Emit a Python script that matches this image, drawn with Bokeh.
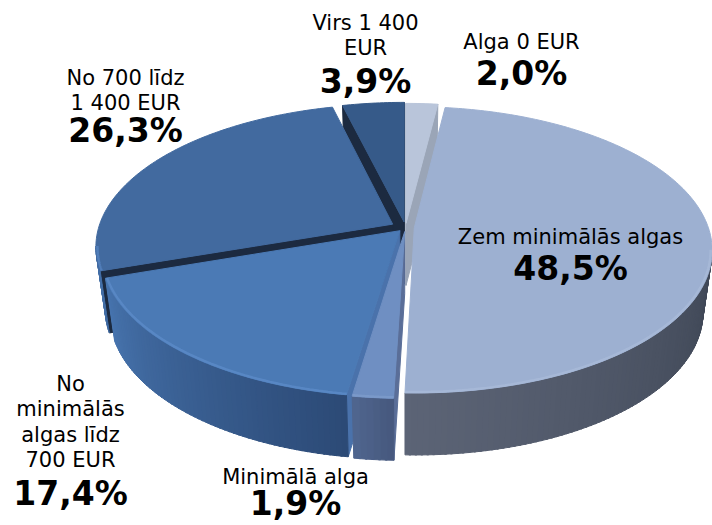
import numpy as np
from bokeh.plotting import figure
from bokeh.models import Range1d, ColumnDataSource
from bokeh.embed import file_html
from bokeh.resources import INLINE
from bokeh.core.properties import value

# ---------------- data ----------------
categories = ["Alga 0 EUR", "Zem minimālās algas", "Minimālā alga",
              "No minimālās algas līdz 700 EUR", "No 700 līdz 1 400 EUR", "Virs 1 400 EUR"]
shares = [2.0, 48.5, 1.9, 17.4, 26.3, 3.9]
label_lines = ["Alga 0 EUR", "Zem minimālās algas", "Minimālā alga",
               "No\nminimālās\nalgas līdz\n700 EUR", "No 700 līdz\n1 400 EUR", "Virs 1 400\nEUR"]

# ---------------- style ----------------
top_colors = ["#b9c5da", "#9db0d1", "#6f8fc2", "#4b7ab5", "#426a9f", "#365a89"]
radial_colors = ["#9aa5b7", "#3a4250", "#5a6e98", "#4a72ab", "#1c2a40", "#1c2a40"]
side_light = ["#8a96a8", "#5c6476", "#50668f", "#4774ae", "#4470a8", "#2e4a70"]
side_dark = ["#7a8698", "#3e4655", "#46587d", "#2c4a76", "#3d679f", "#2a4468"]
rim_colors = ["#c8d2e4", "#a9bad8", "#7d9bcb", "#5b8bc8", "#5583c0", "#4268a0"]
explode = [0.03, 0.03, 0.03, 0.03, 0.05, 0.04]
label_x = [521, 570, 295, 70, 125, 365]
label_y = [41, 236, 476, 383, 77, 22]
pct_y = [73, 268, 503, 493, 130, 81]
line_step = 25.5

# perspective camera (layout)
cx, cy0 = 405.0, 227.0
sx, sz, kp = 294.0, 139.6, 0.154
depth, gb = 62.0, 0.97

vals = np.array(shares, dtype=float)
frac = vals / vals.sum()
edges = np.concatenate([[0.0], np.cumsum(frac)]) * 2 * np.pi


def hex2rgb(h):
    h = h.lstrip("#")
    return np.array([int(h[i:i + 2], 16) for i in (0, 2, 4)], dtype=float)


def rgb2hex(c):
    c = np.clip(np.round(c), 0, 255).astype(int)
    return "#%02x%02x%02x" % tuple(c)


def proj(theta, r, ex, ez, bottom=False):
    X = r * np.sin(theta) + ex
    Z = r * np.cos(theta) + ez
    w = 1 + kp * Z
    x = cx + sx * X / w
    y = cy0 - sz * Z / w
    if bottom:
        x = cx + (x - cx) * gb
        y = y + depth
    return x, y


def area(qx, qy):
    s = 0.0
    n = len(qx)
    for j in range(n):
        s += qx[j] * qy[(j + 1) % n] - qx[(j + 1) % n] * qy[j]
    return s


mids = (edges[:-1] + edges[1:]) / 2
order = np.argsort(-np.cos(mids))  # back slices first
th_lo = np.arccos(-kp)
th_hi = 2 * np.pi - th_lo

xs, ys, fills = [], [], []
rim_xs, rim_ys, rim_cols = [], [], []

for i in order:
    a, b = edges[i], edges[i + 1]
    m = mids[i]
    ex = explode[i] * np.sin(m)
    ez = explode[i] * np.cos(m)
    # radial walls (back-face culled using projected winding)
    for ang, sign in ((a, -1), (b, 1)):
        c0 = proj(ang, 0, ex, ez)
        r0 = proj(ang, 1, ex, ez)
        r1 = proj(ang, 1, ex, ez, True)
        c1 = proj(ang, 0, ex, ez, True)
        qx = [c0[0], r0[0], r1[0], c1[0]]
        qy = [c0[1], r0[1], r1[1], c1[1]]
        if sign * area(qx, qy) > 0:
            xs.append(qx); ys.append(qy); fills.append(radial_colors[i])
    # outer wall, visible part
    lo, hi = max(a, th_lo), min(b, th_hi)
    if hi > lo:
        n = max(2, int(np.degrees(hi - lo) / 1.0))
        ts = np.linspace(lo, hi, n + 1)
        cl, cd = hex2rgb(side_light[i]), hex2rgb(side_dark[i])
        for k in range(n):
            t0, t1 = ts[k], min(ts[k + 1] + 0.006, hi)
            f = ((ts[k] + ts[k + 1]) / 2 - lo) / (hi - lo)
            col = rgb2hex(cd + f * (cl - cd))
            p0 = proj(t0, 1, ex, ez); p1 = proj(t1, 1, ex, ez)
            q1 = proj(t1, 1, ex, ez, True); q0 = proj(t0, 1, ex, ez, True)
            xs.append([p0[0], p1[0], q1[0], q0[0]])
            ys.append([p0[1], p1[1], q1[1], q0[1]])
            fills.append(col)
        arc = np.linspace(lo, hi, 80)
        ax_, ay_ = proj(arc, 0.995, ex, ez)
        rim_xs.append(list(ax_)); rim_ys.append(list(ay_)); rim_cols.append(rim_colors[i])
    # top face
    arc = np.linspace(a, b, max(3, int(np.degrees(b - a)) + 2))
    c0 = proj(0, 0, ex, ez)
    ax_, ay_ = proj(arc, 1, ex, ez)
    xs.append([c0[0]] + list(ax_)); ys.append([c0[1]] + list(ay_)); fills.append(top_colors[i])

W, H = 712, 525
p = figure(width=W, height=H, x_range=Range1d(0, W), y_range=Range1d(H, 0),
           output_backend="svg", toolbar_location=None, min_border=0,
           x_axis_location=None, y_axis_location=None)
p.grid.visible = False
p.outline_line_color = None
p.background_fill_color = "white"

src = ColumnDataSource(dict(xs=xs, ys=ys, c=fills))
p.patches("xs", "ys", source=src, fill_color="c", line_color="c", line_width=1.0)
p.multi_line(rim_xs, rim_ys, line_color=rim_cols, line_width=2.5, line_alpha=0.8)

# labels
tx, ty, tt = [], [], []
for i, lab in enumerate(label_lines):
    for j, ln in enumerate(lab.split("\n")):
        tx.append(label_x[i]); ty.append(label_y[i] + j * line_step); tt.append(ln)
p.text(x=tx, y=ty, text=tt, text_font=value("DejaVu Sans"), text_font_size="21px",
       text_align="center", text_baseline="middle", text_color="black")
pct = [("%.1f" % v).replace(".", ",") + "%" for v in shares]
p.text(x=label_x, y=pct_y, text=pct, text_font=value("DejaVu Sans"), text_font_size="33px",
       text_font_style="bold", text_align="center", text_baseline="middle", text_color="black")

open("out.html", "w").write(file_html(p, INLINE))
